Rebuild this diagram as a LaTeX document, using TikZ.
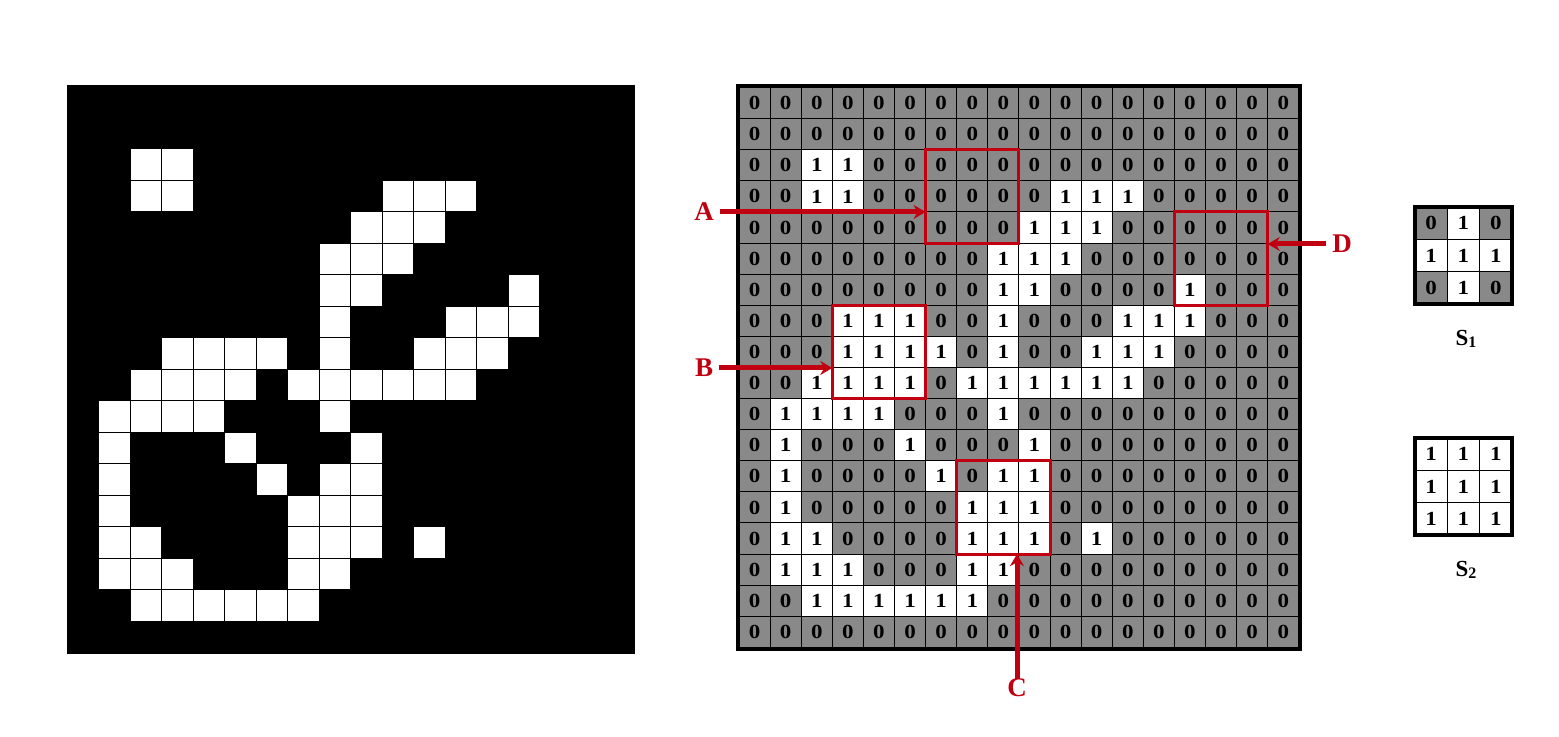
\documentclass[tikz,border=0pt]{standalone}
\usepackage{fontspec}
\setmainfont{Liberation Serif}
\newfontfamily\cellfont[FakeStretch=1.15]{Liberation Serif}
\usetikzlibrary{arrows.meta}
\definecolor{cellgray}{RGB}{137,137,137}
\definecolor{markred}{RGB}{192,0,16}

\begin{document}
\begin{tikzpicture}[x=0.5pt,y=-0.5pt,>={Stealth[length=6pt,width=7pt]},
  pix/.style={draw=black,line width=0.5pt,minimum size=15.75pt,inner sep=0pt,outer sep=0pt},
  p0/.style={fill=black},p1/.style={fill=white},
  cell/.style={draw=black,line width=0.5pt,minimum size=15.55pt,inner sep=0pt,outer sep=0pt,font=\cellfont\fontsize{10}{10}\selectfont\bfseries},
  c0/.style={fill=cellgray},c1/.style={fill=white},
  kern/.style={cell,minimum size=16.15pt},
  redbox/.style={draw=markred,line width=1.5pt,minimum size=46.65pt,inner sep=0pt,outer sep=0pt},
  lbl/.style={text=markred,font=\fontsize{13.5}{13.5}\selectfont\bfseries,inner sep=3pt},
  redarrow/.style={->,color=markred,line width=2.5pt},
  sname/.style={font=\fontsize{11.5}{11.5}\selectfont\bfseries}]
\useasboundingbox (0,0) rectangle (1559,737);

% binary image
\fill[black] (67,86) rectangle (634,653);
\foreach \line [count=\r from 0] in {
  {0,0,0,0,0,0,0,0,0,0,0,0,0,0,0,0,0,0},{0,0,0,0,0,0,0,0,0,0,0,0,0,0,0,0,0,0},
  {0,0,1,1,0,0,0,0,0,0,0,0,0,0,0,0,0,0},{0,0,1,1,0,0,0,0,0,0,1,1,1,0,0,0,0,0},
  {0,0,0,0,0,0,0,0,0,1,1,1,0,0,0,0,0,0},{0,0,0,0,0,0,0,0,1,1,1,0,0,0,0,0,0,0},
  {0,0,0,0,0,0,0,0,1,1,0,0,0,0,1,0,0,0},{0,0,0,0,0,0,0,0,1,0,0,0,1,1,1,0,0,0},
  {0,0,0,1,1,1,1,0,1,0,0,1,1,1,0,0,0,0},{0,0,1,1,1,1,0,1,1,1,1,1,1,0,0,0,0,0},
  {0,1,1,1,1,0,0,0,1,0,0,0,0,0,0,0,0,0},{0,1,0,0,0,1,0,0,0,1,0,0,0,0,0,0,0,0},
  {0,1,0,0,0,0,1,0,1,1,0,0,0,0,0,0,0,0},{0,1,0,0,0,0,0,1,1,1,0,0,0,0,0,0,0,0},
  {0,1,1,0,0,0,0,1,1,1,0,1,0,0,0,0,0,0},{0,1,1,1,0,0,0,1,1,0,0,0,0,0,0,0,0,0},
  {0,0,1,1,1,1,1,1,0,0,0,0,0,0,0,0,0,0},{0,0,0,0,0,0,0,0,0,0,0,0,0,0,0,0,0,0}} {
  \foreach \v [count=\c from 0] in \line
    \node[pix,p\v] (p-\r-\c) at ({67+31.5*(\c+0.5)},{86+31.5*(\r+0.5)}) {};
}

% matrix of values
\foreach \line [count=\r from 0] in {
  {0,0,0,0,0,0,0,0,0,0,0,0,0,0,0,0,0,0},{0,0,0,0,0,0,0,0,0,0,0,0,0,0,0,0,0,0},
  {0,0,1,1,0,0,0,0,0,0,0,0,0,0,0,0,0,0},{0,0,1,1,0,0,0,0,0,0,1,1,1,0,0,0,0,0},
  {0,0,0,0,0,0,0,0,0,1,1,1,0,0,0,0,0,0},{0,0,0,0,0,0,0,0,1,1,1,0,0,0,0,0,0,0},
  {0,0,0,0,0,0,0,0,1,1,0,0,0,0,1,0,0,0},{0,0,0,1,1,1,0,0,1,0,0,0,1,1,1,0,0,0},
  {0,0,0,1,1,1,1,0,1,0,0,1,1,1,0,0,0,0},{0,0,1,1,1,1,0,1,1,1,1,1,1,0,0,0,0,0},
  {0,1,1,1,1,0,0,0,1,0,0,0,0,0,0,0,0,0},{0,1,0,0,0,1,0,0,0,1,0,0,0,0,0,0,0,0},
  {0,1,0,0,0,0,1,0,1,1,0,0,0,0,0,0,0,0},{0,1,0,0,0,0,0,1,1,1,0,0,0,0,0,0,0,0},
  {0,1,1,0,0,0,0,1,1,1,0,1,0,0,0,0,0,0},{0,1,1,1,0,0,0,1,1,0,0,0,0,0,0,0,0,0},
  {0,0,1,1,1,1,1,1,0,0,0,0,0,0,0,0,0,0},{0,0,0,0,0,0,0,0,0,0,0,0,0,0,0,0,0,0}} {
  \foreach \v [count=\c from 0] in \line
    \node[cell,c\v] (g-\r-\c) at ({739+31.1*(\c+0.5)},{87.6+31.1*(\r+0.5)}) {\v};
}
\draw[line width=2pt] ([xshift=-0.75pt,yshift=0.75pt]g-0-0.north west) rectangle ([xshift=0.75pt,yshift=-0.75pt]g-17-17.south east);

% marked windows
\node[redbox] (boxA) at (g-3-7) {};
\node[redbox] (boxB) at (g-8-4) {};
\node[redbox] (boxC) at (g-13-8) {};
\node[redbox] (boxD) at (g-5-15) {};
\node[lbl] (labA) at (704,212) {A};
\node[lbl] (labB) at (704,368) {B};
\node[lbl] (labC) at (1017,688) {C};
\node[lbl] (labD) at (1342,244) {D};
\draw[redarrow] (labA) -- (labA -| boxA.west);
\draw[redarrow] (labB) -- (labB -| boxB.west);
\draw[redarrow,shorten <=-3pt] (labC) -- (labC |- boxC.south);
\draw[redarrow] (labD) -- (labD -| boxD.east);

% structuring elements
\foreach \line [count=\r from 0] in {{0,1,0},{1,1,1},{0,1,0}} {
  \foreach \v [count=\c from 0] in \line
    \node[kern,c\v] (sa-\r-\c) at ({1415+32.3*(\c+0.5)},{207+32.3*(\r+0.5)}) {\v};
}
\foreach \line [count=\r from 0] in {{1,1,1},{1,1,1},{1,1,1}} {
  \foreach \v [count=\c from 0] in \line
    \node[kern,c\v] (sb-\r-\c) at ({1415+32.3*(\c+0.5)},{438+32.3*(\r+0.5)}) {\v};
}
\draw[line width=2pt] (sa-0-0.north west) rectangle (sa-2-2.south east);
\draw[line width=2pt] (sb-0-0.north west) rectangle (sb-2-2.south east);
\node[sname] (nameA) at (1466,339) {S\raisebox{-1pt}{\fontsize{8}{8}\selectfont 1}};
\node[sname] (nameB) at (1466,570) {S\raisebox{-1pt}{\fontsize{8}{8}\selectfont 2}};
\end{tikzpicture}
\end{document}
